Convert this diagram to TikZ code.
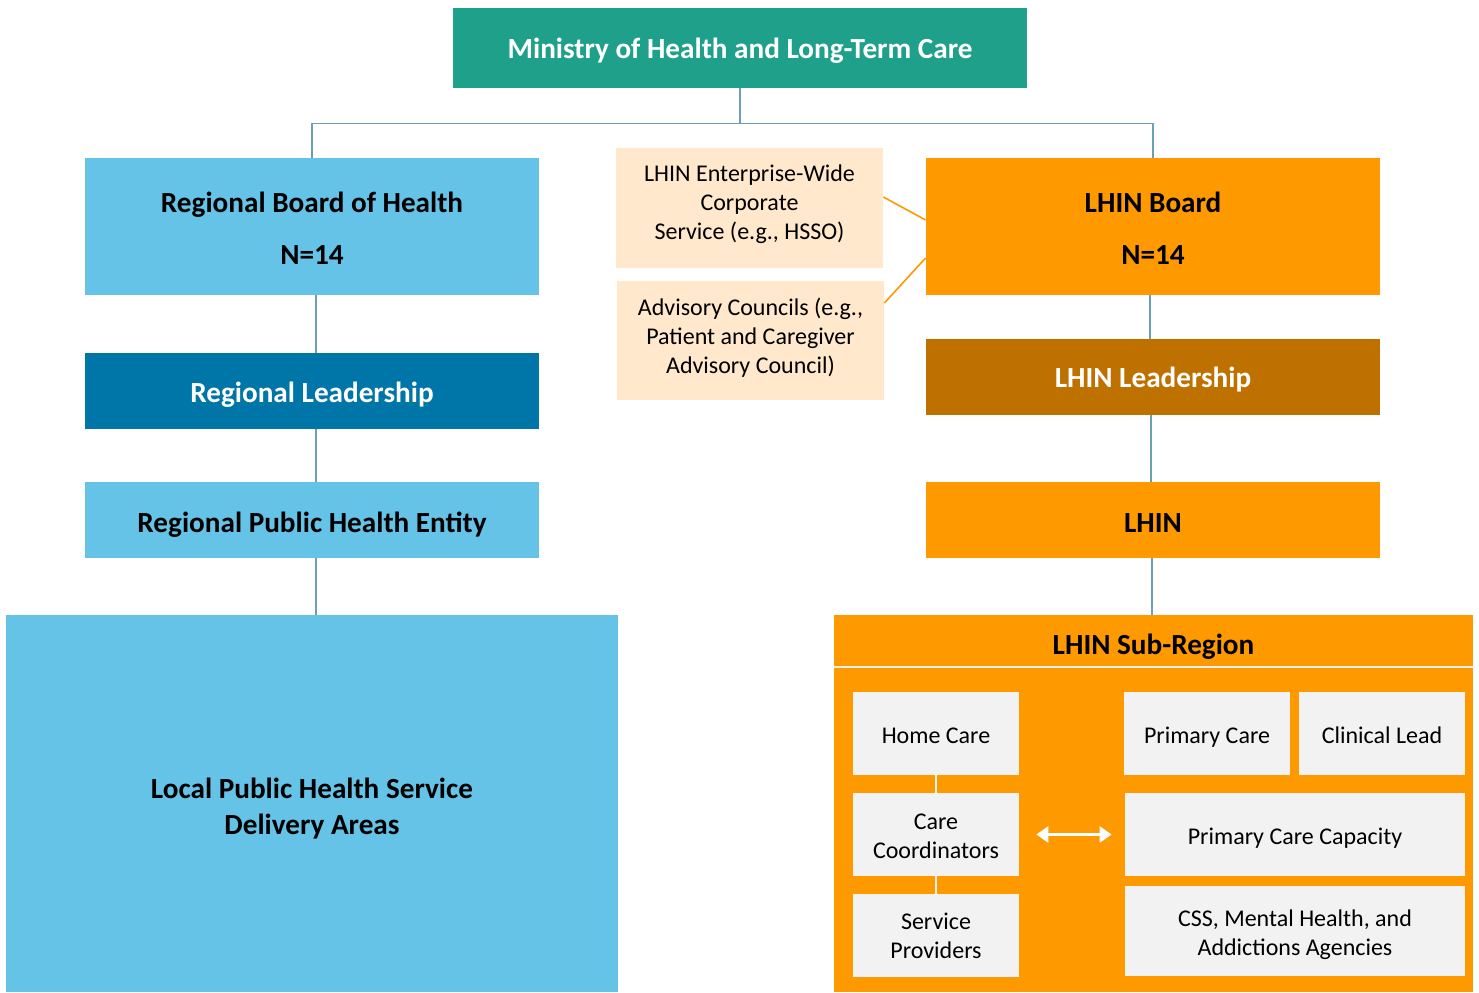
\documentclass[tikz,border=0pt]{standalone}
\usepackage{fontspec}
\setmainfont{Carlito}
\usetikzlibrary{arrows.meta,calc}
\definecolor{teal1}{HTML}{1FA08B}
\definecolor{lblue}{HTML}{66C3E8}
\definecolor{dblue}{HTML}{0076A8}
\definecolor{orng}{HTML}{FF9900}
\definecolor{brwn}{HTML}{BF7100}
\definecolor{cream}{HTML}{FFE8CC}
\definecolor{lgray}{HTML}{F2F2F2}
\definecolor{conn}{HTML}{6A9FB5}
\tikzset{
  box/.style={rectangle, inner sep=0pt, align=center, draw=none},
  tl/.style={font=\fontsize{14.6}{18}\selectfont\bfseries, align=center, inner sep=0pt},
  sl/.style={font=\fontsize{12}{14.5}\selectfont, align=center, inner sep=0pt},
  link/.style={draw=conn, line width=0.9pt},
  olink/.style={draw=orng, line width=0.8pt},
  wlink/.style={draw=lgray, line width=1.2pt},
}
\begin{document}
\begin{tikzpicture}[x=0.5pt,y=-0.5pt]
\useasboundingbox (0,0) rectangle (1479,992);
% top
\node[box, fill=teal1, minimum width=287pt, minimum height=40pt,
  label={[tl, text=white, yshift=-1.5pt]center:{Ministry of Health and Long-Term Care}}] (min) at (740,48) {};
% left column
\node[box, fill=lblue, minimum width=227pt, minimum height=68.5pt,
  label={[tl, yshift=-1pt]center:{Regional Board of Health\\[8pt]N=14}}] (rb) at (312,226.5) {};
\node[box, fill=dblue, minimum width=227pt, minimum height=38pt,
  label={[tl, text=white, yshift=-2pt]center:{Regional Leadership}}] (rl) at (312,391) {};
\node[box, fill=lblue, minimum width=227pt, minimum height=38pt,
  label={[tl, yshift=-2.5pt]center:{Regional Public Health Entity}}] (rph) at (312,520) {};
\node[box, fill=lblue, minimum width=306pt, minimum height=188.5pt,
  label={[tl, yshift=-2.5pt]center:{Local Public Health Service\\Delivery Areas}}] (loc) at (312,803.5) {};
% middle
\node[box, fill=cream, minimum width=133.5pt, minimum height=60pt,
  label={[sl, yshift=2pt]center:{LHIN Enterprise-Wide\\Corporate\\Service (e.g., HSSO)}}] (ent) at (749.5,208) {};
\node[box, fill=cream, minimum width=133.5pt, minimum height=59.5pt,
  label={[sl, yshift=1.25pt]center:{Advisory Councils (e.g.,\\Patient and Caregiver\\Advisory Council)}}] (adv) at (750.5,340.5) {};
% right column
\node[box, fill=orng, minimum width=227pt, minimum height=68.5pt,
  label={[tl, yshift=-1pt]center:{LHIN Board\\[8pt]N=14}}] (lb) at (1153,226.5) {};
\node[box, fill=brwn, minimum width=227pt, minimum height=38pt,
  label={[tl, text=white, yshift=-1.5pt]center:{LHIN Leadership}}] (ll) at (1153,377) {};
\node[box, fill=orng, minimum width=227pt, minimum height=38pt,
  label={[tl, yshift=-1.5pt]center:{LHIN}}] (lhin) at (1153,520) {};
\node[box, fill=orng, minimum width=319.5pt, minimum height=188.5pt] (sub) at (1153.5,803.5) {};
\node[tl] (subt) at (1153.5,647) {LHIN Sub-Region};
\draw[draw=lgray, line width=1pt] (sub.west |- 0,667) coordinate (hl) -- (sub.east |- 0,667) coordinate (hr);
% inner boxes
\node[box, fill=lgray, minimum width=83pt, minimum height=41.5pt,
  label={[sl, yshift=-1pt]center:{Home Care}}] (hc) at (936,733.5) {};
\node[box, fill=lgray, minimum width=83pt, minimum height=41.5pt,
  label={[sl, yshift=-1pt]center:{Care\\Coordinators}}] (cc) at (936,834.5) {};
\node[box, fill=lgray, minimum width=83pt, minimum height=41.5pt,
  label={[sl]center:{Service\\Providers}}] (sp) at (936,935.5) {};
\node[box, fill=lgray, minimum width=83pt, minimum height=41.5pt,
  label={[sl, yshift=-2pt]center:{Primary Care}}] (pc) at (1207,733.5) {};
\node[box, fill=lgray, minimum width=83pt, minimum height=41.5pt,
  label={[sl, yshift=-1pt]center:{Clinical Lead}}] (cl) at (1382,733.5) {};
\node[box, fill=lgray, minimum width=170pt, minimum height=41.5pt,
  label={[sl, yshift=-2pt]center:{Primary Care Capacity}}] (pcc) at (1295,834.5) {};
\node[box, fill=lgray, minimum width=170pt, minimum height=45pt,
  label={[sl, yshift=-2pt]center:{CSS, Mental Health, and\\Addictions Agencies}}] (css) at (1295,931) {};
% connectors
\draw[link] (min.south) -- ++(0,35) -| (rb.north);
\draw[link] (min.south) -- ++(0,35) -| (lb.north);
\draw[link] ([xshift=2pt]rb.south) -- ([xshift=2pt]rl.north);
\draw[link] ([xshift=2pt]rl.south) -- ([xshift=2pt]rph.north);
\draw[link] ([xshift=2pt]rph.south) -- ([xshift=2pt]loc.north);
\draw[link] ([xshift=-1.5pt]lb.south) -- ([xshift=-1.5pt]ll.north);
\draw[link] ([xshift=-1pt]ll.south) -- ([xshift=-1pt]lhin.north);
\draw[link] ([xshift=-0.5pt]lhin.south) -- ([xshift=-0.75pt]sub.north);
\draw[olink] ([yshift=5.5pt]ent.east) -- ([yshift=3.25pt]lb.west);
\draw[olink] ([yshift=18.75pt]adv.east) -- ([yshift=-15.75pt]lb.west);
\draw[wlink] (hc.south) -- (cc.north);
\draw[wlink] (cc.south) -- (sp.north);
\draw[white, line width=1.6pt, {Triangle[length=6pt,width=8pt]}-{Triangle[length=6pt,width=8pt]}, shorten <=8.5pt, shorten >=6.5pt] (cc.east) -- (pcc.west);
\end{tikzpicture}
\end{document}
